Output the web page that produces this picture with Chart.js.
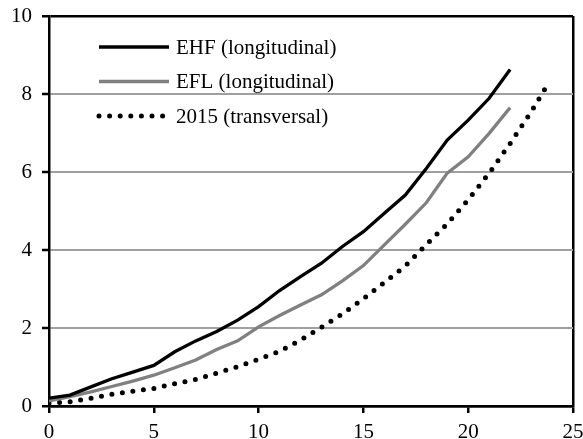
<!DOCTYPE html>
<html>
<head>
<meta charset="utf-8">
<script src="https://cdn.jsdelivr.net/npm/chart.js@4"></script>
<style>
  html, body { margin: 0; padding: 0; background: #fff; }
  #chart { display: block; }
</style>
</head>
<body>
<canvas id="chart" width="583" height="439"></canvas>
<script>
const ages = [0, 1, 2, 3, 4, 5, 6, 7, 8, 9, 10, 11, 12, 13, 14, 15, 16, 17, 18, 19, 20, 21, 22];
const ehf = [0.2, 0.28, 0.49, 0.7, 0.87, 1.04, 1.39, 1.67, 1.91, 2.2, 2.55, 2.96, 3.32, 3.66, 4.09, 4.47, 4.94, 5.41, 6.09, 6.82, 7.33, 7.89, 8.63];
const efl = [0.13, 0.24, 0.36, 0.5, 0.64, 0.79, 0.98, 1.18, 1.45, 1.67, 2.03, 2.32, 2.59, 2.85, 3.21, 3.6, 4.13, 4.66, 5.21, 5.97, 6.39, 6.99, 7.65];
const transAges = [0, 1, 2, 3, 4, 5, 6, 7, 8, 9, 10, 11, 12, 13, 14, 15, 16, 17, 18, 19, 20, 21, 22, 23, 23.8];
const trans = [0.07, 0.11, 0.2, 0.3, 0.38, 0.45, 0.57, 0.68, 0.84, 1.01, 1.2, 1.4, 1.69, 2.02, 2.36, 2.75, 3.17, 3.59, 4.14, 4.67, 5.29, 5.97, 6.73, 7.54, 8.25];
const seriesNames = ['EHF (longitudinal)', 'EFL (longitudinal)', '2015 (transversal)'];

const FONT = '"Liberation Serif", "Times New Roman", serif';
const toPoints = (xs, ys) => xs.map((x, i) => ({ x: x, y: ys[i] }));

// legend drawn inside the plot, top left, with line samples
const insideLegend = {
  id: 'insideLegend',
  afterDatasetsDraw(chart) {
    const c = chart.ctx;
    const area = chart.chartArea;
    const x0 = area.left + 50, x1 = area.left + 120;
    chart.data.datasets.forEach((ds, i) => {
      const y = area.top + 31 + i * 34.5;
      c.save();
      c.strokeStyle = ds.borderColor;
      c.lineWidth = ds.borderWidth;
      c.lineCap = ds.borderCapStyle || 'butt';
      c.setLineDash(ds.borderDash || []);
      c.beginPath();
      c.moveTo(x0, y);
      c.lineTo(x1, y);
      c.stroke();
      c.setLineDash([]);
      c.fillStyle = '#000';
      c.font = '21px ' + FONT;
      c.textBaseline = 'middle';
      c.textAlign = 'left';
      c.fillText(ds.label, x1 + 7, y + 1);
      c.restore();
    });
  }
};

new Chart(document.getElementById('chart'), {
  type: 'line',
  data: {
    datasets: [
      {
        label: seriesNames[0],
        data: toPoints(ages, ehf),
        borderColor: '#000000',
        borderWidth: 3.3,
        pointRadius: 0,
        tension: 0
      },
      {
        label: seriesNames[1],
        data: toPoints(ages, efl),
        borderColor: '#808080',
        borderWidth: 3.3,
        pointRadius: 0,
        tension: 0
      },
      {
        label: seriesNames[2],
        data: toPoints(transAges, trans),
        borderColor: '#000000',
        borderWidth: 5,
        borderDash: [0, 10.6],
        borderCapStyle: 'round',
        pointRadius: 0,
        tension: 0
      }
    ]
  },
  options: {
    responsive: false,
    animation: false,
    layout: { padding: { left: 0, right: 10, top: 16, bottom: 0 } },
    plugins: {
      legend: { display: false },
      tooltip: { enabled: false }
    },
    scales: {
      x: {
        type: 'linear',
        min: 0,
        max: 25,
        ticks: {
          stepSize: 5,
          color: '#000',
          padding: 7,
          font: { family: FONT, size: 21 }
        },
        grid: {
          color: ctx => ctx.tick && ctx.tick.value === 25 ? '#000' : 'rgba(0,0,0,0)',
          lineWidth: 2.5,
          tickColor: '#000',
          tickLength: 7,
          tickWidth: 2.5
        },
        border: { color: '#000', width: 2.5 },
        afterFit(scale) {
          scale.height = 33;
          scale.paddingLeft = 0;
          scale.paddingRight = 0;
        }
      },
      y: {
        min: 0,
        max: 10,
        ticks: {
          stepSize: 2,
          color: '#000',
          padding: 10,
          font: { family: FONT, size: 21 }
        },
        grid: {
          color: ctx => (ctx.tick && (ctx.tick.value === 0 || ctx.tick.value === 10)) ? '#000' : '#a0a0a0',
          lineWidth: ctx => (ctx.tick && (ctx.tick.value === 0 || ctx.tick.value === 10)) ? 2.5 : 2,
          tickColor: '#000',
          tickLength: 7,
          tickWidth: 2.5
        },
        border: { color: '#000', width: 2.5 },
        afterFit(scale) {
          scale.width = 49;
          scale.paddingTop = 0;
          scale.paddingBottom = 0;
        }
      }
    }
  },
  plugins: [insideLegend]
});
</script>
</body>
</html>
